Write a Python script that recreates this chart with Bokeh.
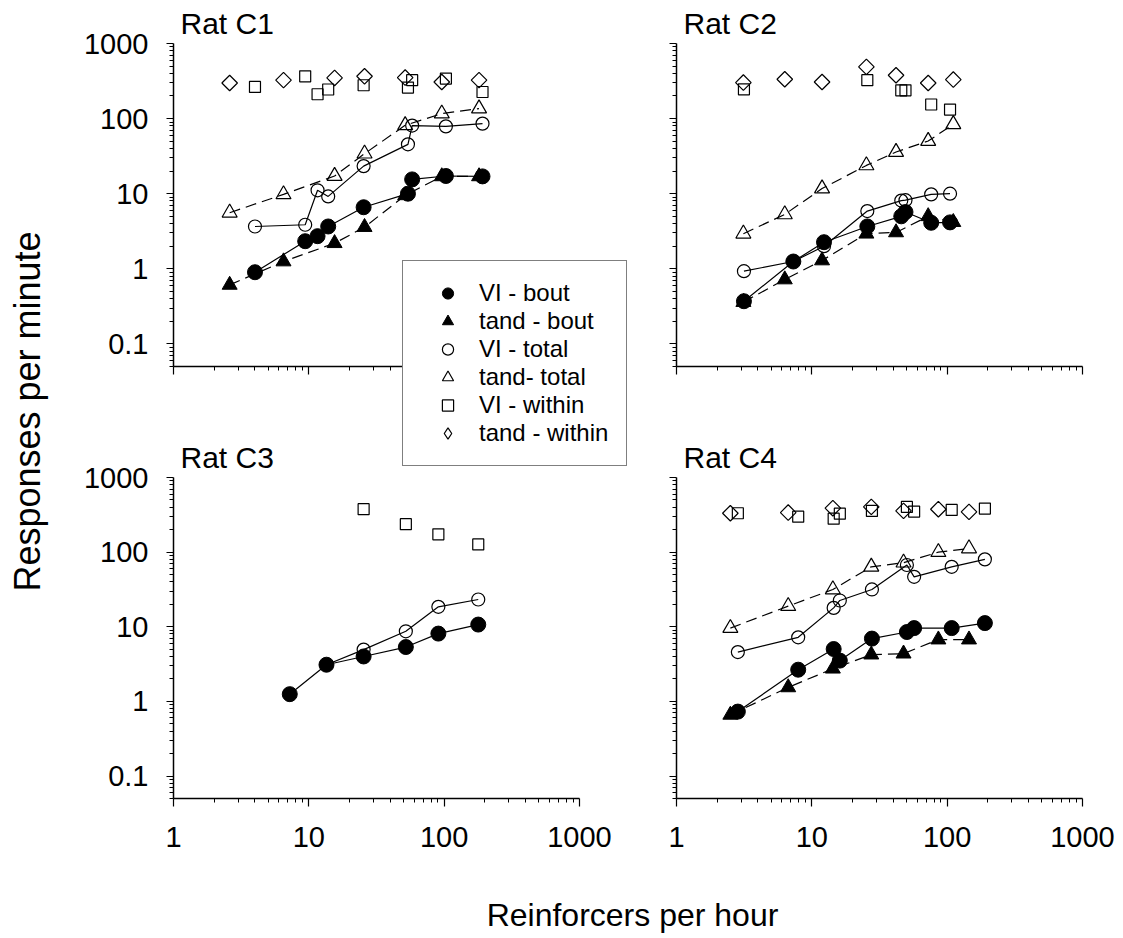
import math
from bokeh.plotting import figure
from bokeh.models import Range1d, FixedTicker, Legend, LegendItem, Spacer
from bokeh.core.properties import value
from bokeh.layouts import row, column
from bokeh.embed import file_html
from bokeh.resources import INLINE

FONT = "Liberation Sans"

# ---------------- axis ticks / labels ----------------
x_major = [1, 10, 100, 1000]
x_labels = ["1", "10", "100", "1000"]
y_major = [0.1, 1, 10, 100, 1000]
y_labels = ["0.1", "1", "10", "100", "1000"]

# ---------------- data ----------------
# Rat C1
c1_vi_x = [4.0, 9.4, 11.6, 13.9, 25.4, 54, 58, 103, 192]
c1_vi_bout = [0.90, 2.33, 2.72, 3.66, 6.6, 10.0, 15.5, 17.2, 17.0]
c1_vi_total = [3.66, 3.86, 11.1, 9.2, 23.3, 45.4, 80.7, 78.8, 85.7]
c1_vi_within = [264, 366, 211, 244, 278, 259, 325, 341, 226]
c1_t_x = [2.6, 6.5, 15.5, 25.8, 51.5, 96, 181]
c1_t_bout = [0.61, 1.25, 2.19, 3.59, 9.5, 17.0, 17.0]
c1_t_total = [5.58, 9.8, 17.2, 34.1, 81.5, 116.6, 136]
c1_t_within = [298, 325, 348, 366, 352, 307, 325]

# Rat C2
c2_vi_x = [3.15, 7.3, 12.3, 25.7, 45.8, 49.2, 76.2, 105]
c2_vi_bout = [0.37, 1.25, 2.26, 3.66, 5.0, 5.7, 4.1, 4.15]
c2_vi_total = [0.93, 1.25, 2.0, 5.87, 8.1, 8.2, 9.8, 10.0]
c2_vi_within_x = [3.15, 25.7, 45.8, 49.2, 76.2, 105]
c2_vi_within = [245, 325, 238, 238, 154, 132]
c2_t_x = [3.12, 6.31, 11.9, 25.3, 41.9, 72.4, 111]
c2_t_bout = [0.36, 0.72, 1.29, 2.93, 3.05, 5.0, 4.18]
c2_t_total = [2.93, 5.3, 11.7, 23.8, 35.9, 50.3, 84]
c2_t_within = [302, 334, 307, 488, 378, 298, 331]

# Rat C3
c3_vi_x = [7.23, 13.5, 25.4, 52.1, 90.6, 178.6]
c3_vi_bout = [1.25, 3.1, 4.0, 5.35, 8.1, 10.7]
c3_vi_total_x = [13.5, 25.4, 52.1, 90.6, 178.6]
c3_vi_total = [3.1, 4.94, 8.7, 18.5, 23.2]
c3_vi_within_x = [25.4, 52.1, 90.6, 178.6]
c3_vi_within = [376, 237, 173, 127]

# Rat C4
c4_vi_x = [2.84, 7.93, 14.5, 16.1, 27.8, 50.4, 57, 108, 190]
c4_vi_bout = [0.73, 2.66, 5.03, 3.52, 6.94, 8.5, 9.6, 9.6, 11.2]
c4_vi_total = [4.58, 7.22, 17.9, 22.5, 31.6, 67.2, 46.7, 63.6, 80]
c4_vi_within = [332, 299, 281, 328, 357, 404, 349, 368, 383]
c4_t_x = [2.5, 6.69, 14.3, 27.5, 47.6, 86.1, 145]
c4_t_bout = [0.66, 1.54, 2.74, 4.23, 4.36, 6.73, 6.73]
c4_t_total = [9.6, 18.9, 31.6, 63.6, 72.2, 100, 112]
c4_t_within = [332, 339, 388, 404, 357, 376, 346]

legend_labels = ["VI - bout", "tand - bout", "VI - total", "tand- total",
                 "VI - within", "tand - within"]
titles = ["Rat C1", "Rat C2", "Rat C3", "Rat C4"]
x_title = "Reinforcers per hour"
y_title = "Responses per minute"

# ---------------- styles ----------------
DASH = "11 6"
LW = 1.2
STY = {
    "vi_bout": dict(marker="circle", size=15, fill_color="black", line_color="black"),
    "t_bout": dict(marker="triangle", size=15, fill_color="black", line_color="black"),
    "vi_total": dict(marker="circle", size=13, fill_alpha=0, line_color="black", line_width=1.2),
    "t_total": dict(marker="triangle", size=15, fill_alpha=0, line_color="black", line_width=1.2),
    "vi_within": dict(marker="square", size=11, fill_alpha=0, line_color="black", line_width=1.2),
    "t_within": dict(marker="square", size=11, angle=math.pi / 4, fill_alpha=0,
                     line_color="black", line_width=1.2),
}
LEG_STY = dict(STY)
LEG_STY["t_within"] = dict(marker="diamond", size=14, fill_alpha=0, line_color="black", line_width=1.2)

x_minor = [m * 10 ** e for e in range(0, 3) for m in range(2, 10)]
y_minor = [m * 10 ** e for e in range(-2, 3) for m in range(2, 10) if m * 10 ** e >= 0.05 - 1e-12]


def make_fig(title, width, height, mbl, mbr, mbt, mbb, show_x, show_y):
    p = figure(title=title, width=width, height=height, x_axis_type="log", y_axis_type="log",
               x_range=Range1d(1, 1000), y_range=Range1d(0.05, 1000),
               output_backend="svg", toolbar_location=None,
               min_border_left=mbl, min_border_right=mbr,
               min_border_top=mbt, min_border_bottom=mbb)
    p.outline_line_color = None
    p.grid.visible = False
    p.background_fill_color = "white"
    p.border_fill_color = "white"

    p.title.align = "left"
    p.title.offset = 7
    p.title.text_font = FONT
    p.title.text_font_size = "30px"
    p.title.text_font_style = "normal"
    p.title.text_color = "black"
    p.title.standoff = 7

    xa = p.xaxis[0]
    xa.ticker = FixedTicker(ticks=x_major, minor_ticks=x_minor)
    xa.major_label_overrides = {t: (l if show_x else "") for t, l in zip(x_major, x_labels)}
    xa.major_tick_out = 8
    xa.major_tick_in = 0
    xa.minor_tick_out = 4
    xa.minor_tick_in = 0
    xa.axis_line_width = 1.5
    xa.major_tick_line_width = 1.2
    xa.minor_tick_line_width = 1
    xa.major_label_text_font = FONT
    xa.major_label_text_font_size = "29px"
    xa.major_label_text_color = "black"
    xa.major_label_standoff = 20 if show_x else 0

    ya = p.yaxis[0]
    ya.ticker = FixedTicker(ticks=y_major, minor_ticks=y_minor)
    ya.major_label_overrides = {t: (l if show_y else "") for t, l in zip(y_major, y_labels)}
    ya.major_tick_out = 7
    ya.major_tick_in = 0
    ya.minor_tick_out = 4
    ya.minor_tick_in = 0
    ya.axis_line_width = 1.5
    ya.major_tick_line_width = 1.2
    ya.minor_tick_line_width = 1
    ya.major_label_text_font = FONT
    ya.major_label_text_font_size = "29px"
    ya.major_label_text_color = "black"
    ya.major_label_standoff = 18 if show_y else 0
    return p


def draw_series(p, vi_x, vi_bout, vi_tot_x, vi_tot, vi_win_x, vi_win,
                t_x=None, t_bout=None, t_tot=None, t_win=None):
    if t_x is not None:
        p.line(t_x, t_tot, line_color="black", line_width=LW, line_dash=DASH)
        p.line(t_x, t_bout, line_color="black", line_width=LW, line_dash=DASH)
    p.line(vi_tot_x, vi_tot, line_color="black", line_width=LW)
    p.line(vi_x, vi_bout, line_color="black", line_width=LW)
    if t_x is not None:
        p.scatter(t_x, t_win, **STY["t_within"])
    p.scatter(vi_win_x, vi_win, **STY["vi_within"])
    if t_x is not None:
        p.scatter(t_x, t_tot, **STY["t_total"])
    p.scatter(vi_tot_x, vi_tot, **STY["vi_total"])
    if t_x is not None:
        p.scatter(t_x, t_bout, **STY["t_bout"])
    p.scatter(vi_x, vi_bout, **STY["vi_bout"])


def blank_fig(width, height, styles=None):
    f = figure(title=None, width=width, height=height, output_backend="svg",
               toolbar_location=None, x_range=Range1d(0, width), y_range=Range1d(0, height),
               min_border_left=0, min_border_right=0, min_border_top=0, min_border_bottom=0)
    f.axis.visible = False
    f.grid.visible = False
    f.outline_line_color = None
    f.background_fill_alpha = 0
    f.border_fill_alpha = 0
    if styles:
        f.styles = styles
    return f


# ---------------- panels ----------------
p1 = make_fig(titles[0], 584, 420, 117, 61, 43, 54, False, True)
p2 = make_fig(titles[1], 483, 420, 36, 41, 43, 54, False, False)
p3 = make_fig(titles[2], 584, 448, 117, 61, 57, 70, True, True)
p4 = make_fig(titles[3], 483, 448, 36, 41, 57, 70, True, False)

draw_series(p1, c1_vi_x, c1_vi_bout, c1_vi_x, c1_vi_total, c1_vi_x, c1_vi_within,
            c1_t_x, c1_t_bout, c1_t_total, c1_t_within)
draw_series(p2, c2_vi_x, c2_vi_bout, c2_vi_x, c2_vi_total, c2_vi_within_x, c2_vi_within,
            c2_t_x, c2_t_bout, c2_t_total, c2_t_within)
draw_series(p3, c3_vi_x, c3_vi_bout, c3_vi_total_x, c3_vi_total, c3_vi_within_x, c3_vi_within)
draw_series(p4, c4_vi_x, c4_vi_bout, c4_vi_x, c4_vi_total, c4_vi_x, c4_vi_within,
            c4_t_x, c4_t_bout, c4_t_total, c4_t_within)

# ---------------- legend (own small figure laid over the panels) ----------------
legfig = blank_fig(236, 212, styles={"position": "absolute", "left": "402px",
                                     "top": "260px", "z-index": "10"})
nan = float("nan")
order = ["vi_bout", "t_bout", "vi_total", "t_total", "vi_within", "t_within"]
items = []
for lab, k in zip(legend_labels, order):
    rr = legfig.scatter([nan], [nan], **LEG_STY[k])
    items.append(LegendItem(label=lab, renderers=[rr]))
legend = Legend(items=items, location="top_left", orientation="vertical",
                padding=18, spacing=0, margin=0,
                glyph_width=53, glyph_height=28, label_height=28, label_standoff=5,
                label_text_font=FONT, label_text_font_size="24px", label_text_color="black",
                border_line_color="black", border_line_width=1,
                background_fill_color="white", background_fill_alpha=1.0)
legfig.add_layout(legend)

# ---------------- outer axis titles ----------------
ystrip = blank_fig(120, 868, styles={"position": "absolute", "left": "0px", "top": "0px"})
ystrip.text(x=[27], y=[868 - 411], text=[y_title], angle=math.pi / 2,
            text_font=value(FONT), text_font_size="36px", text_color="black",
            text_align="center", text_baseline="middle")

xstrip = blank_fig(1123, 100, styles={"position": "absolute", "left": "0px", "top": "838px"})
xstrip.text(x=[632], y=[24], text=[x_title],
            text_font=value(FONT), text_font_size="32px", text_color="black",
            text_align="center", text_baseline="middle")

layout = column(row(Spacer(width=56, height=868), column(p1, p3), column(p2, p4)),
                ystrip, xstrip, legfig)

open("out.html", "w").write(file_html(layout, INLINE))
